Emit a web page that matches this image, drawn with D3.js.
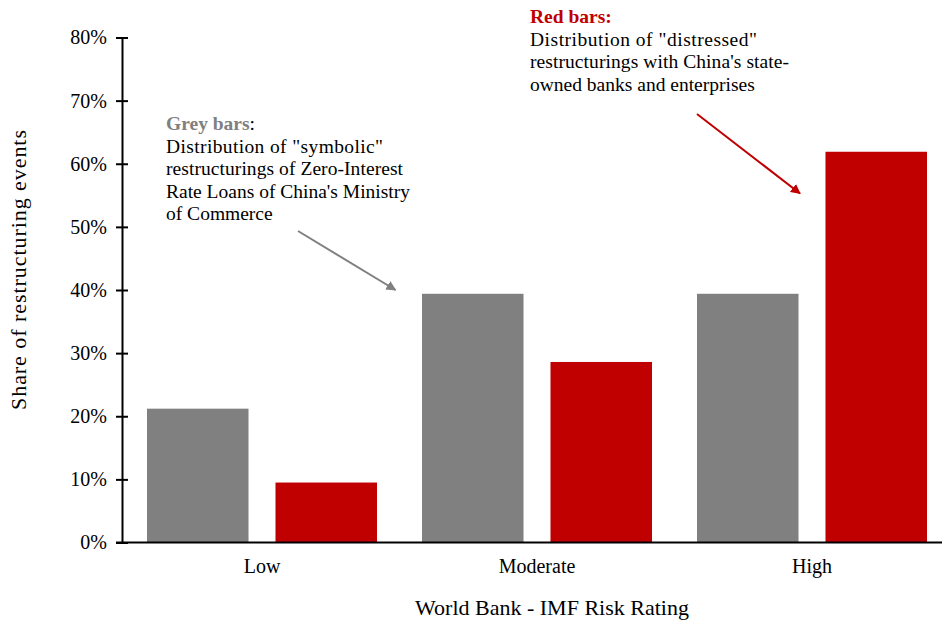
<!DOCTYPE html>
<html>
<head>
<meta charset="utf-8">
<script src="https://cdn.jsdelivr.net/npm/d3@7"></script>
<style>
  body { margin: 0; background: #fff; }
  text { font-family: "Liberation Serif", "Times New Roman", serif; }
</style>
</head>
<body>
<script>
// categories and series
var categories = ["Low", "Moderate", "High"];
var series = ["grey", "red"];
// share of restructuring events
var greyValues = [0.212, 0.394, 0.394];
var redValues = [0.095, 0.286, 0.619];
var yTicks = [0, 0.1, 0.2, 0.3, 0.4, 0.5, 0.6, 0.7, 0.8];

var colors = {grey: "#808080", red: "#c00000"};

var width = 942, height = 622;
var svg = d3.select("body").append("svg")
  .attr("width", width)
  .attr("height", height);

//scales
var x0 = d3.scaleBand()
  .domain(categories)
  .range([124.5, 949.5]);

var x1 = d3.scaleBand()
  .domain(series)
  .range([0, 230])
  .paddingInner(0.21);

var y = d3.scaleLinear()
  .domain([0, 0.8])
  .range([542.5, 37.5]);

//bars
var rows = categories.map(function(c, i) {
  return {cat: c, grey: greyValues[i], red: redValues[i]};
});

var groups = svg.selectAll(".grp")
  .data(rows)
  .enter().append("g")
  .attr("class", "grp")
  .attr("transform", function(d) { return "translate(" + (x0(d.cat) + (x0.bandwidth() - 230) / 2) + ",0)"; });

groups.selectAll("rect")
  .data(function(d) { return series.map(function(s) { return {s: s, v: d[s]}; }); })
  .enter().append("rect")
  .attr("x", function(d) { return x1(d.s); })
  .attr("width", x1.bandwidth())
  .attr("y", function(d) { return y(d.v); })
  .attr("height", function(d) { return y(0) - y(d.v); })
  .attr("fill", function(d) { return colors[d.s]; });

//y axis, ticks crossing the line
var yAxis = d3.axisLeft(y)
  .tickValues(yTicks)
  .tickFormat(d3.format(".0%"))
  .tickSize(0)
  .tickPadding(15);

var yg = svg.append("g")
  .attr("transform", "translate(122,0)")
  .call(yAxis);
yg.select(".domain").attr("stroke", "#000").attr("stroke-width", 2);
yg.selectAll(".tick line").remove();
yg.selectAll(".tick").append("line")
  .attr("x1", -6).attr("x2", 6)
  .attr("stroke", "#000").attr("stroke-width", 2);
yg.selectAll(".tick text")
  .attr("font-size", 20)
  .attr("fill", "#000")
  .style("font-family", "'Liberation Serif', serif");

//x axis
var xAxis = d3.axisBottom(x0).tickSize(0).tickPadding(16);
var xg = svg.append("g")
  .attr("transform", "translate(0," + y(0) + ")")
  .call(xAxis);
xg.select(".domain").attr("d", "M116,0H942").attr("stroke", "#000").attr("stroke-width", 2);
xg.selectAll(".tick text")
  .attr("font-size", 20)
  .attr("fill", "#000")
  .style("font-family", "'Liberation Serif', serif");

//axis titles
svg.append("text")
  .attr("text-anchor", "middle")
  .attr("transform", "translate(26,270)rotate(-90)")
  .attr("font-size", 22)
  .attr("textLength", 280)
  .attr("lengthAdjust", "spacing")
  .text("Share of restructuring events");

svg.append("text")
  .attr("text-anchor", "middle")
  .attr("x", 552)
  .attr("y", 615)
  .attr("font-size", 22)
  .text("World Bank - IMF Risk Rating");

//annotations, justified lines get a width
function note(xPos, yPos, head, headColor, colonColor, lines, widths) {
  var t = svg.append("text")
    .attr("x", xPos)
    .attr("y", yPos)
    .attr("font-size", 19.5);
  t.append("tspan").attr("x", xPos).attr("font-weight", "bold").attr("fill", headColor).text(head);
  t.append("tspan").attr("fill", colonColor)
    .attr("font-weight", colonColor === "#000" ? "normal" : "bold").text(":");
  lines.forEach(function(l, i) {
    var ts = t.append("tspan").attr("x", xPos).attr("dy", 22.5).attr("fill", "#000").text(l);
    if (widths[i]) ts.attr("textLength", widths[i]).attr("lengthAdjust", "spacing");
  });
}

note(166, 130, "Grey bars", colors.grey, "#000", [
  "Distribution of \"symbolic\"",
  "restructurings of Zero-Interest",
  "Rate Loans of China's Ministry",
  "of Commerce"
], [217, 237, 244, 0]);
note(530, 23, "Red bars", colors.red, colors.red, [
  "Distribution of \"distressed\"",
  "restructurings with China's state-",
  "owned banks and enterprises"
], [227, 259, 0]);

//arrows
var defs = svg.append("defs");
series.forEach(function(s) {
  defs.append("marker")
    .attr("id", "arrow-" + s)
    .attr("viewBox", "0 0 10 10")
    .attr("refX", 9).attr("refY", 5)
    .attr("markerWidth", 5).attr("markerHeight", 5)
    .attr("orient", "auto")
    .append("path")
    .attr("d", "M0,0L10,5L0,10z")
    .attr("fill", colors[s]);
});

svg.append("line")
  .attr("x1", 298).attr("y1", 231)
  .attr("x2", x0("Moderate") - 4).attr("y2", y(0.40))
  .attr("stroke", colors.grey).attr("stroke-width", 2)
  .attr("marker-end", "url(#arrow-grey)");

svg.append("line")
  .attr("x1", 697).attr("y1", 114)
  .attr("x2", 800).attr("y2", y(0.553))
  .attr("stroke", colors.red).attr("stroke-width", 2)
  .attr("marker-end", "url(#arrow-red)");
</script>
</body>
</html>
